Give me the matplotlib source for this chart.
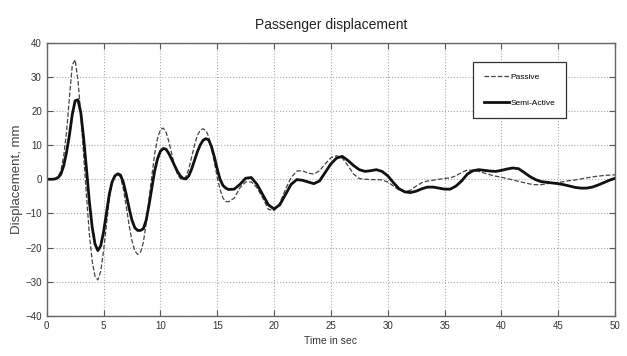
import numpy as np
import matplotlib
matplotlib.use("Agg")
import matplotlib.pyplot as plt

# time grid: 0.25 s up to 16 s, then 0.5 s
time_fine = np.arange(0, 16.01, 0.25)
time_coarse = np.arange(16.5, 50.01, 0.5)
time_s = np.concatenate([time_fine, time_coarse])

passive_fine = [
    0, 0, 0, 0.2, 0.8, 2.5, 7, 14, 24, 33.5, 35, 29, 19, 7, -5, -16,
    -24, -28.5, -29.5, -27, -21, -13.5, -6, -1, 1.2, 1.6, 0.5, -3, -8, -13.5, -18, -21,
    -22, -21.5, -18.5, -13, -6, 1, 7.5, 12, 14.5, 15, 13.8, 11, 7.5, 4, 1.5, 0.2,
    0, 0.8, 3, 6.5, 10, 12.8, 14.3, 14.8, 14.3, 12.5, 9, 5, 0.5, -3, -5.5, -6.5,
    -6.6,
]
passive_coarse = [
    -5.5, -2.5, -0.8, -0.8, -2.5, -5.5, -8.8, -9.2, -7, -3, 0.5, 2.4, 2.5, 1.8,
    1.5, 2.5, 4.5, 6.3, 6.9, 6.2, 4, 1.5, 0.2, 0, -0.1, -0.1, -0.2, -0.8, -2,
    -3.2, -3.6, -3.2, -2, -1, -0.5, -0.3, 0, 0.2, 0.4, 1, 2, 2.7, 2.6, 2.3, 1.8,
    1.3, 0.9, 0.6, 0.2, -0.2, -0.6, -1, -1.4, -1.6, -1.6, -1.3, -1.1, -0.9, -0.7,
    -0.4, -0.2, 0.1, 0.4, 0.7, 0.9, 1.1, 1.2, 1.3,
]

semi_fine = [
    0, 0, 0, 0.1, 0.5, 1.5, 4, 8, 13, 19, 23, 23.3, 19.5, 12, 3, -6.5,
    -14, -19, -20.9, -19.5, -15.5, -10, -4.5, -0.8, 1.0, 1.6, 1.2, -1, -4.5, -8.5, -12, -14.2,
    -15, -15, -14.5, -12, -7.5, -2.5, 2.5, 6, 8.2, 9, 8.8, 7.5, 5.8, 4, 2.3, 1,
    0.2, 0.1, 1, 3, 5.5, 8, 10, 11.4, 11.9, 11.5, 9.5, 6.5, 3, 0, -1.8, -2.6,
    -3,
]
semi_coarse = [
    -2.9, -1.5, 0.3, 0.5, -1.5, -4.5, -7.5, -8.7, -7.5, -4.5, -1.5, -0.1, -0.3,
    -0.8, -1.3, -0.5, 2, 4.5, 6.2, 6.7, 5.5, 4, 2.8, 2.3, 2.5, 2.8, 2.3, 1.0, -1,
    -2.8, -3.7, -3.9, -3.5, -2.8, -2.3, -2.3, -2.6, -2.9, -2.9, -2, -0.5, 1.5,
    2.5, 2.8, 2.6, 2.4, 2.3, 2.6, 3.0, 3.3, 3.1, 2, 0.8, -0.1, -0.7, -0.9, -1.1,
    -1.3, -1.6, -2, -2.4, -2.6, -2.6, -2.3, -1.7, -1, -0.3, 0.3,
]

passive = passive_fine + passive_coarse
semi_active = semi_fine + semi_coarse

x_ticks = list(range(0, 51, 5))
y_ticks = list(range(-40, 41, 10))

plt.rcParams['font.family'] = ['Liberation Sans', 'DejaVu Sans']

fig = plt.figure(figsize=(6.27, 3.56), dpi=100)
ax = fig.add_axes([0.0745, 0.113, 0.9065, 0.767])

ax.plot(time_s, passive, linestyle='--', color='#444444', linewidth=0.9, label='Passive')
ax.plot(time_s, semi_active, linestyle='-', color='#111111', linewidth=2.0, label='Semi-Active')

ax.set_xlim(0, 50)
ax.set_ylim(-40, 40)
ax.set_xticks(x_ticks)
ax.set_yticks(y_ticks)
ax.tick_params(direction='in', top=True, right=True, labelsize=7, length=4,
               color='#555555', labelcolor='#333333')
ax.grid(True, linestyle=':', color='#aaaaaa', linewidth=0.8)
for s in ax.spines.values():
    s.set_color('#666666')
    s.set_linewidth(1.0)

ax.set_title('Passenger displacement', fontsize=10, color='#222222', pad=10)
ax.set_xlabel('Time in sec', fontsize=7.5, color='#333333', labelpad=4)
ax.set_ylabel('Displacement, mm', fontsize=9.5, color='#444444', labelpad=2)

leg = ax.legend(loc='upper right', bbox_to_anchor=(0.914, 0.929), borderaxespad=0,
                fontsize=6, fancybox=False, edgecolor='#333333', framealpha=1,
                labelspacing=2.2, handlelength=3.0, borderpad=1.3, handletextpad=0.2)
leg.get_frame().set_linewidth(0.9)

fig.savefig('out.png', dpi=100)
